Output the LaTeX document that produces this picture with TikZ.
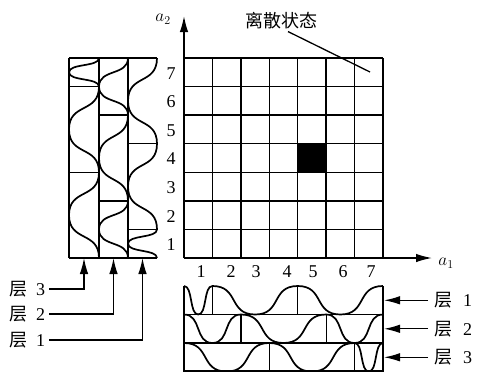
\documentclass[tikz,border=0pt]{standalone}
\usepackage{fontspec}
\setmainfont{Liberation Serif}
\newfontfamily\cjk{Noto Sans CJK SC}
\usetikzlibrary{calc,arrows.meta}
\tikzset{
  gridl/.style={line width=1.4pt},
  wave/.style={line width=1.7pt, line join=round},
  hw/.style={to path={.. controls ($(\tikztostart)!0.63!(\tikztotarget |- \tikztostart)$) and ($(\tikztotarget)!0.63!(\tikztostart |- \tikztotarget)$) .. (\tikztotarget) \tikztonodes}},
  vw/.style={to path={.. controls ($(\tikztostart)!0.63!(\tikztostart |- \tikztotarget)$) and ($(\tikztotarget)!0.63!(\tikztotarget |- \tikztostart)$) .. (\tikztotarget) \tikztonodes}},
  arr/.style={-{Latex[length=16pt,width=8.5pt]}, line width=1.3pt},
  num/.style={font=\fontsize{18}{18}\selectfont, inner sep=0pt},
  lbl/.style={font=\fontsize{18}{18}\selectfont, inner sep=0pt},
}
\begin{document}
\begin{tikzpicture}[x=1pt,y=-1pt]
\useasboundingbox (0,0) rectangle (477,372);
% grid
\fill (297.7,143.7) rectangle (326.2,172.3);
\foreach \i in {1,...,7} {
  \draw[gridl] ({184+28.43*\i},58) -- ({184+28.43*\i},258);
  \draw[gridl] (184,{258-28.57*\i}) -- (383,{258-28.57*\i});
}
% axes
\coordinate (O) at (184,258);
\coordinate (X) at (432,258);
\coordinate (Y) at (184,16);
\draw[arr, line width=1.5pt] (O) -- (X);
\draw[arr, line width=1.5pt] (O) -- (Y);
\node[num] (a2) at (163,19) {$a_2$};
\node[num] (a1) at (446,263) {$a_1$};
% axis numbers
\foreach \k in {1,...,7} {
  \node[num] (ry\k) at (171,{258-28.57*(\k-0.5)+1}) {\k};
}
\foreach \k/\xx in {1/201,2/231,3/256,4/287,5/313,6/343,7/371} {
  \node[num] (cx\k) at (\xx,272) {\k};
}
% title
\node[lbl, font=\fontsize{18}{18}\selectfont\cjk] (t) at (281,21) {离散状态};
\coordinate (tp) at (370,72);
\draw[line width=1.3pt] ([xshift=7pt,yshift=-2pt]t.south) -- (tp);

% bottom panel
\draw[wave] (184,286) to[hw] (198.2,314.5) to[hw] (212.4,286) to[hw] (255.1,314.5) to[hw] (297.7,286) to[hw] (340.4,314.5) to[hw] (383,286);
\draw[wave] (184,314.5) to[hw] (212.4,343) to[hw] (240.9,314.5) to[hw] (283.5,343) to[hw] (326.2,314.5) to[hw] (354.6,343) to[hw] (383,314.5);
\draw[wave] (184,343) to[hw] (226.6,371.5) to[hw] (269.3,343) to[hw] (311.9,371.5) to[hw] (354.6,343) to[hw] (368.8,371.5) to[hw] (383,343);
\foreach \yy in {314.5,343,371} \draw[gridl] (184,\yy) -- (383,\yy);
\draw[gridl] (184,286) -- (184,371.5);
\draw[gridl] (383,286) -- (383,371.5);
\draw[gridl] (212.4,286) -- (212.4,314.5);
\draw[gridl] (297.7,286) -- (297.7,314.5);
\draw[gridl] (240.9,314.5) -- (240.9,343);
\draw[gridl] (326.2,314.5) -- (326.2,343);
\draw[gridl] (269.3,343) -- (269.3,371.5);
\draw[gridl] (354.6,343) -- (354.6,371.5);

% left panel
\draw[wave] (157,258) to[vw] (128,243.7) to[vw] (157,229.4) to[vw] (128,186.6) to[vw] (157,143.7) to[vw] (128,100.9) to[vw] (157,58);
\draw[wave] (128,258) to[vw] (99,229.4) to[vw] (128,200.9) to[vw] (99,158) to[vw] (128,115.1) to[vw] (99,86.6) to[vw] (128,58);
\draw[wave] (99,258) to[vw] (69,215.1) to[vw] (99,172.3) to[vw] (69,129.4) to[vw] (99,86.6) to[vw] (69,72.3) to[vw] (99,58);
\foreach \xx in {69,99,128} \draw[gridl] (\xx,58) -- (\xx,258);
\draw[gridl] (69,58) -- (157,58);
\draw[gridl] (69,258) -- (157,258);
\draw[gridl] (128,229.4) -- (157,229.4);
\draw[gridl] (128,143.7) -- (157,143.7);
\draw[gridl] (99,200.9) -- (128,200.9);
\draw[gridl] (99,115.1) -- (128,115.1);
\draw[gridl] (69,172.3) -- (99,172.3);
\draw[gridl] (69,86.6) -- (99,86.6);

% left labels and arrows
\coordinate (c3) at (84,258);
\coordinate (c2) at (113.5,258);
\coordinate (c1) at (142.5,258);
\node[lbl, anchor=west] (L3) at (9,289) {{\cjk 层}\hspace{9pt}3};
\node[lbl, anchor=west] (L2) at (9,314) {{\cjk 层}\hspace{9pt}2};
\node[lbl, anchor=west] (L1) at (9,340) {{\cjk 层}\hspace{9pt}1};
\draw[arr] ([xshift=4pt]L3.east) -| (c3);
\draw[arr] ([xshift=4pt]L2.east) -| (c2);
\draw[arr] ([xshift=4pt]L1.east) -| (c1);

% right labels and arrows
\coordinate (pe) at (384,300);
\node[lbl, anchor=west] (R1) at (434,300.3) {{\cjk 层}\hspace{11pt}1};
\node[lbl, anchor=west] (R2) at (434,328.8) {{\cjk 层}\hspace{11pt}2};
\node[lbl, anchor=west] (R3) at (434,357.3) {{\cjk 层}\hspace{11pt}3};
\draw[arr] ([xshift=-6pt]R1.west) -- (R1.west -| pe);
\draw[arr] ([xshift=-6pt]R2.west) -- (R2.west -| pe);
\draw[arr] ([xshift=-6pt]R3.west) -- (R3.west -| pe);
\end{tikzpicture}
\end{document}
